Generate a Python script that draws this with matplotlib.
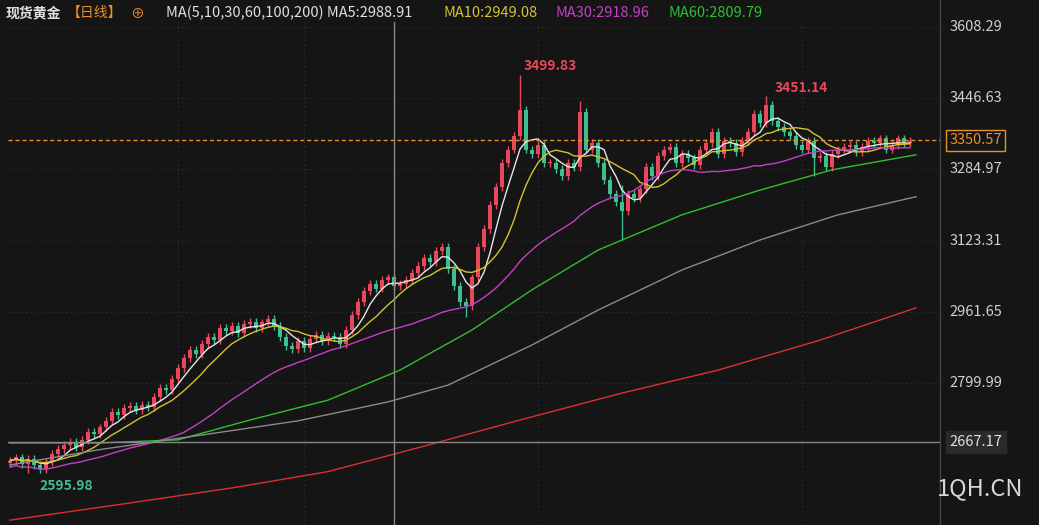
import matplotlib
matplotlib.use("Agg")
import matplotlib.pyplot as plt
import numpy as np

plt.rcParams['font.family'] = ['Noto Sans CJK SC', 'DejaVu Sans']

# ---- datos ----
closes = [2625, 2632, 2618, 2628, 2615, 2605, 2622, 2640, 2652, 2660,
          2668, 2655, 2672, 2690, 2685, 2700, 2715, 2735, 2728, 2745,
          2748, 2740, 2752, 2746, 2770, 2790, 2785, 2810, 2835, 2858,
          2875, 2866, 2890, 2905, 2898, 2925, 2918, 2930, 2915, 2935,
          2940, 2925, 2938, 2945, 2930, 2905, 2885, 2878, 2895, 2880,
          2900, 2910, 2895, 2908, 2905, 2890, 2920, 2955, 2985, 3010,
          3025, 3015, 3035, 3040, 3020, 3025, 3035, 3050, 3065, 3085,
          3075, 3100, 3110, 3060, 3020, 2985, 2975, 3040, 3110, 3150,
          3205, 3245, 3300, 3330, 3360, 3420, 3330, 3320, 3340, 3300,
          3300, 3285, 3270, 3300, 3290, 3415, 3330, 3345, 3300, 3260,
          3230, 3210, 3190, 3230, 3220, 3240, 3290, 3270, 3315, 3330,
          3335, 3300, 3320, 3310, 3295, 3330, 3345, 3370, 3320, 3350,
          3345, 3325, 3350, 3370, 3410, 3390, 3430, 3395, 3380, 3370,
          3360, 3340, 3330, 3350, 3310, 3315, 3290, 3320, 3330, 3335,
          3340, 3325, 3335, 3350, 3345, 3355, 3330, 3340, 3355, 3345, 3350]
first_open = 2620
wick_up = 9
wick_dn = 9
high_override = {85: 3499.83, 126: 3451.14, 95: 3440, 102: 3250}
low_override = {3: 2595.98, 102: 3125, 76: 2950, 134: 3270}

ma60_idx = [0, 15, 28, 40, 53, 65, 77, 87, 98, 112, 125, 137, 151]
ma60_val = [2665, 2665, 2672, 2717, 2762, 2830, 2921, 3012, 3102, 3182, 3238, 3284, 3318]
ma100_idx = [0, 15, 32, 48, 63, 73, 87, 98, 112, 125, 138, 151]
ma100_val = [2615, 2650, 2683, 2715, 2758, 2796, 2887, 2966, 3057, 3125, 3182, 3223]
ma200_idx = [0, 18, 37, 53, 68, 85, 102, 118, 135, 151]
ma200_val = [2490, 2525, 2563, 2600, 2654, 2717, 2778, 2830, 2898, 2971]

y_ticks = [3608.29, 3446.63, 3284.97, 3123.31, 2961.65, 2799.99]
last_price = 3350.57
cross_price = 2667.17
cross_idx = 64

BG = "#151515"
UP = "#e8495a"
DN = "#3fbf8f"

closes = np.array(closes, dtype=float)
opens = np.concatenate([[first_open], closes[:-1]])
highs = np.maximum(opens, closes) + wick_up
lows = np.minimum(opens, closes) - wick_dn
for k, v in high_override.items():
    highs[k] = v
for k, v in low_override.items():
    lows[k] = v
n = len(closes)
x = np.arange(n)

fig = plt.figure(figsize=(10.39, 5.25), dpi=100, facecolor=BG)
ax = fig.add_axes([8 / 1039, 0, 932 / 1039, 503 / 525], facecolor=BG)
ax.set_xlim(-0.33, 155)
ax.set_ylim(2479, 3619)

for yt in y_ticks:
    ax.axhline(yt, color="#333333", lw=0.8, ls=(0, (1, 3)))
for xv in [28, 49, 88, 132]:
    ax.axvline(xv, color="#333333", lw=0.8, ls=(0, (1, 3)))

# velas
for i in range(n):
    col = UP if closes[i] >= opens[i] else DN
    ax.vlines(x[i], lows[i], highs[i], color=col, lw=1)
    b0 = min(opens[i], closes[i])
    h = max(abs(closes[i] - opens[i]), 1.5)
    ax.bar(x[i], h, bottom=b0, width=0.72, color=col, lw=0)

# medias móviles
s = np.array(closes)
def ma(p):
    return np.array([s[max(0, i - p + 1):i + 1].mean() for i in range(n)])
ax.plot(x, ma(5), color="#e6e6e6", lw=1)
ax.plot(x, ma(10), color="#d4c232", lw=1)
ax.plot(x, ma(30) - 15, color="#c63fc6", lw=1)
ax.plot(ma60_idx, ma60_val, color="#2fbf2f", lw=1)
ax.plot(ma100_idx, ma100_val, color="#8a8a8a", lw=1)
ax.plot(ma200_idx, ma200_val, color="#d93030", lw=1)

# líneas de referencia
ax.axhline(last_price, color="#e8902a", lw=1, ls=(0, (3, 2)))
ax.axhline(cross_price, color="#888888", lw=1)
ax.axvline(cross_idx, color="#888888", lw=1)

ax.annotate("3499.83", (85, 3499.83), xytext=(3, 3), textcoords="offset points",
            color=UP, fontsize=10, fontweight="bold")
ax.annotate("3451.14", (126, 3451.14), xytext=(6, 3), textcoords="offset points",
            color=UP, fontsize=10, fontweight="bold")
ax.annotate("2595.98", (3, 2595.98), xytext=(8, -12), textcoords="offset points",
            color="#3fbf8f", fontsize=10, fontweight="bold")

ax.set_xticks([])
ax.set_yticks([])
for sp in ax.spines.values():
    sp.set_visible(False)

# eje derecho
for yt in y_ticks:
    ax.text(1.01, yt, f"{yt:.2f}", transform=ax.get_yaxis_transform(),
            color="#d0d0d0", fontsize=10.5, va="center")
ax.text(1.01, last_price, f"{last_price:.2f}", transform=ax.get_yaxis_transform(),
        color="#e8902a", fontsize=10.5, va="center",
        bbox=dict(boxstyle="square,pad=0.25", fc=BG, ec="#e8902a"))
ax.text(1.01, cross_price, f"{cross_price:.2f}", transform=ax.get_yaxis_transform(),
        color="#e0e0e0", fontsize=10.5, va="center",
        bbox=dict(boxstyle="square,pad=0.25", fc="#2a2a2a", ec="#2a2a2a"))
fig.lines.append(plt.Line2D([940 / 1039] * 2, [0, 1], color="#444444", lw=1,
                            transform=fig.transFigure))

# cabecera
fig.text(0.005, 0.975, "现货黄金", color="#e0e0e0", fontsize=10, va="center", fontweight="bold")
fig.text(0.064, 0.975, "【日线】", color="#e8902a", fontsize=10, va="center")
fig.text(0.125, 0.975, "⊕", color="#e8902a", fontsize=10, va="center")
fig.text(0.16, 0.975, "MA(5,10,30,60,100,200) MA5:2988.91", color="#e0e0e0", fontsize=10.5, va="center")
fig.text(0.427, 0.975, "MA10:2949.08", color="#d4c232", fontsize=10.5, va="center")
fig.text(0.535, 0.975, "MA30:2918.96", color="#c63fc6", fontsize=10.5, va="center")
fig.text(0.643, 0.975, "MA60:2809.79", color="#2fbf2f", fontsize=10.5, va="center")
fig.text(0.985, 0.07, "1QH.CN", color="#d8d8d8", fontsize=17, ha="right", va="center")

fig.savefig("out.png", dpi=100, facecolor=BG)
